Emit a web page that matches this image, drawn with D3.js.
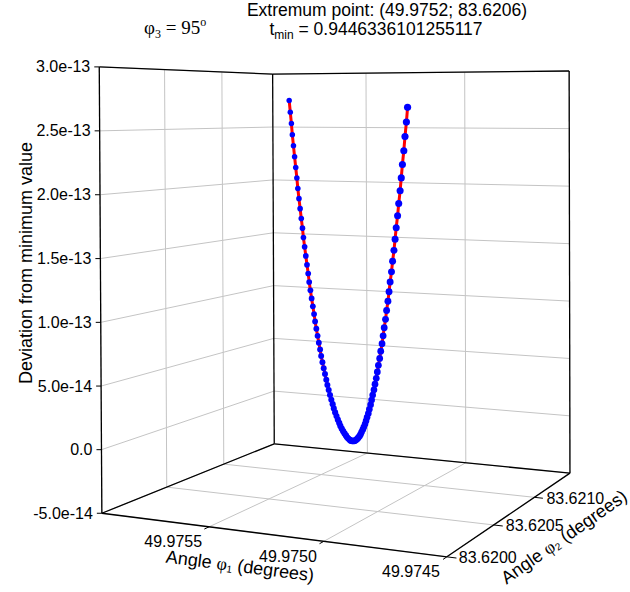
<!DOCTYPE html>
<html>
<head>
<meta charset="utf-8">
<script src="https://cdn.jsdelivr.net/npm/d3@7"></script>
<style>
body { margin: 0; background: #fff; }
svg { font-family: Arial, "Liberation Sans", sans-serif; }
</style>
</head>
<body>
<svg width="630" height="592"></svg>
<script>
// angle phi1 (degrees), angle phi2 (degrees), deviation from minimum value
var phi1 = [
  49.975910, 49.975895, 49.975880, 49.975866, 49.975851, 49.975836, 49.975821, 49.975806, 49.975792, 49.975777,
  49.975762, 49.975747, 49.975732, 49.975718, 49.975703, 49.975688, 49.975673, 49.975658, 49.975644, 49.975629,
  49.975614, 49.975599, 49.975584, 49.975570, 49.975555, 49.975540, 49.975525, 49.975510, 49.975496, 49.975481,
  49.975466, 49.975451, 49.975436, 49.975422, 49.975407, 49.975392, 49.975377, 49.975362, 49.975348, 49.975333,
  49.975318, 49.975303, 49.975288, 49.975274, 49.975259, 49.975244, 49.975229, 49.975214, 49.975200, 49.975185,
  49.975170,
  49.975160, 49.975149, 49.975139, 49.975128, 49.975118, 49.975108, 49.975097, 49.975087, 49.975076, 49.975066,
  49.975056, 49.975045, 49.975035, 49.975024, 49.975014, 49.975004, 49.974993, 49.974983, 49.974972, 49.974962,
  49.974952, 49.974941, 49.974931, 49.974920, 49.974910, 49.974900, 49.974889, 49.974879, 49.974868, 49.974858,
  49.974848, 49.974837, 49.974827, 49.974816, 49.974806, 49.974796, 49.974785, 49.974775, 49.974764, 49.974754,
  49.974744, 49.974733, 49.974723, 49.974712, 49.974702, 49.974692, 49.974681, 49.974671, 49.974660, 49.974650
]
var phi2 = [
  83.621500, 83.621482, 83.621464, 83.621446, 83.621428, 83.621410, 83.621392, 83.621374, 83.621356, 83.621338,
  83.621320, 83.621302, 83.621284, 83.621266, 83.621248, 83.621230, 83.621212, 83.621194, 83.621176, 83.621158,
  83.621140, 83.621122, 83.621104, 83.621086, 83.621068, 83.621050, 83.621032, 83.621014, 83.620996, 83.620978,
  83.620960, 83.620942, 83.620924, 83.620906, 83.620888, 83.620870, 83.620852, 83.620834, 83.620816, 83.620798,
  83.620780, 83.620762, 83.620744, 83.620726, 83.620708, 83.620690, 83.620672, 83.620654, 83.620636, 83.620618,
  83.620600,
  83.620588, 83.620576, 83.620564, 83.620552, 83.620540, 83.620528, 83.620516, 83.620504, 83.620492, 83.620480,
  83.620468, 83.620456, 83.620444, 83.620432, 83.620420, 83.620408, 83.620396, 83.620384, 83.620372, 83.620360,
  83.620348, 83.620336, 83.620324, 83.620312, 83.620300, 83.620288, 83.620276, 83.620264, 83.620252, 83.620240,
  83.620228, 83.620216, 83.620204, 83.620192, 83.620180, 83.620168, 83.620156, 83.620144, 83.620132, 83.620120,
  83.620108, 83.620096, 83.620084, 83.620072, 83.620060, 83.620048, 83.620036, 83.620024, 83.620012, 83.620000
]
var dev = [
  2.750e-13, 2.641e-13, 2.534e-13, 2.430e-13, 2.328e-13, 2.228e-13, 2.130e-13, 2.034e-13, 1.940e-13, 1.849e-13,
  1.760e-13, 1.673e-13, 1.588e-13, 1.506e-13, 1.426e-13, 1.348e-13, 1.272e-13, 1.198e-13, 1.126e-13, 1.057e-13,
  9.90e-14, 9.25e-14, 8.62e-14, 8.02e-14, 7.44e-14, 6.88e-14, 6.34e-14, 5.82e-14, 5.32e-14, 4.85e-14,
  4.40e-14, 3.97e-14, 3.56e-14, 3.18e-14, 2.82e-14, 2.48e-14, 2.16e-14, 1.86e-14, 1.58e-14, 1.33e-14,
  1.10e-14, 8.9e-15, 7.0e-15, 5.4e-15, 4.0e-15, 2.8e-15, 1.8e-15, 1.0e-15, 4e-16, 1e-16,
  0,
  1e-16, 4e-16, 1.0e-15, 1.7e-15, 2.7e-15, 3.9e-15, 5.3e-15, 6.9e-15, 8.7e-15, 1.07e-14,
  1.30e-14, 1.55e-14, 1.82e-14, 2.11e-14, 2.42e-14, 2.75e-14, 3.10e-14, 3.48e-14, 3.88e-14, 4.30e-14,
  4.74e-14, 5.20e-14, 5.68e-14, 6.18e-14, 6.71e-14, 7.26e-14, 7.83e-14, 8.42e-14, 9.03e-14, 9.67e-14,
  1.032e-13, 1.099e-13, 1.169e-13, 1.241e-13, 1.315e-13, 1.391e-13, 1.469e-13, 1.550e-13, 1.633e-13, 1.717e-13,
  1.804e-13, 1.893e-13, 1.984e-13, 2.078e-13, 2.173e-13, 2.271e-13, 2.371e-13, 2.473e-13, 2.577e-13, 2.683e-13
]
var phi1Ticks = [49.9755, 49.9750, 49.9745]
var phi2Ticks = [83.6200, 83.6205, 83.6210]
var devTicks = [-5e-14, 0, 5e-14, 1e-13, 1.5e-13, 2e-13, 2.5e-13, 3e-13]

var svg = d3.select('svg')
var gridColor = '#c4c4c4'
var serif = 'Times New Roman, Liberation Serif, serif'

// data -> unit box
var x = d3.scaleLinear().domain([49.9760, 49.9745]).range([0, 1])
var y = d3.scaleLinear().domain([83.6200, 83.6215]).range([0, 1])
var z = d3.scaleLinear().domain([-5e-14, 3e-13]).range([0, 1])

// where the box corners sit on the page; a perspective camera is fitted to them
var corners = [
  [0, 0, 0, 102, 513], [1, 0, 0, 447, 557], [1, 1, 0, 570, 473], [0, 1, 0, 274, 444],
  [0, 0, 1, 99, 67], [0, 1, 1, 273, 74], [1, 1, 1, 569, 71]
]
var cam = fitCamera(corners)

function fitCamera(pts) {
  var rows = [], rhs = []
  pts.forEach(function(p) {
    var X = p[0], Y = p[1], Z = p[2], sx = p[3], sy = p[4]
    rows.push([X, Y, Z, 1, 0, 0, 0, 0, -sx * X, -sx * Y, -sx * Z]); rhs.push(sx)
    rows.push([0, 0, 0, 0, X, Y, Z, 1, -sy * X, -sy * Y, -sy * Z]); rhs.push(sy)
  })
  var n = 11
  var M = d3.range(n).map(function(i) {
    return d3.range(n + 1).map(function(j) {
      return d3.sum(rows, function(r, k) { return r[i] * (j < n ? r[j] : rhs[k]) })
    })
  })
  for (var c = 0; c < n; c++) {
    var p = c
    for (var r = c + 1; r < n; r++) if (Math.abs(M[r][c]) > Math.abs(M[p][c])) p = r
    var tmp = M[c]; M[c] = M[p]; M[p] = tmp
    for (var r2 = 0; r2 < n; r2++) {
      if (r2 === c) continue
      var f = M[r2][c] / M[c][c]
      for (var k = c; k <= n; k++) M[r2][k] -= f * M[c][k]
    }
  }
  return M.map(function(row, i) { return row[n] / row[i] })
}

function project(u, v, w) {
  var d = cam[8] * u + cam[9] * v + cam[10] * w + 1
  return [(cam[0] * u + cam[1] * v + cam[2] * w + cam[3]) / d,
          (cam[4] * u + cam[5] * v + cam[6] * w + cam[7]) / d, d]
}

function seg(g, a, b, color, width) {
  var p = project.apply(null, a), q = project.apply(null, b)
  g.append('line')
    .attr('x1', p[0]).attr('y1', p[1]).attr('x2', q[0]).attr('y2', q[1])
    .attr('stroke', color).attr('stroke-width', width)
}

// grid on the left wall, back wall and floor
var grid = svg.append('g')
devTicks.forEach(function(t) {
  seg(grid, [0, 0, z(t)], [0, 1, z(t)], gridColor, 1)
  seg(grid, [0, 1, z(t)], [1, 1, z(t)], gridColor, 1)
})
phi2Ticks.forEach(function(t) {
  seg(grid, [0, y(t), 0], [0, y(t), 1], gridColor, 1)
  seg(grid, [0, y(t), 0], [1, y(t), 0], gridColor, 1)
})
phi1Ticks.forEach(function(t) {
  seg(grid, [x(t), 1, 0], [x(t), 1, 1], gridColor, 1)
  seg(grid, [x(t), 0, 0], [x(t), 1, 0], gridColor, 1)
})

// frame
var frame = svg.append('g')
var edges = [
  [[0, 0, 0], [0, 0, 1]], [[0, 1, 0], [0, 1, 1]], [[1, 1, 0], [1, 1, 1]],
  [[0, 0, 1], [0, 1, 1]], [[0, 1, 1], [1, 1, 1]],
  [[0, 0, 0], [1, 0, 0]], [[1, 0, 0], [1, 1, 0]], [[1, 1, 0], [0, 1, 0]], [[0, 1, 0], [0, 0, 0]]
]
edges.forEach(function(e) { seg(frame, e[0], e[1], '#000', 1.3) })

// ticks and tick labels
var axes = svg.append('g').attr('font-size', 16).attr('fill', '#000')
var fmtDev = function(d) {
  return d === 0 ? '0.0' : d3.format('.1e')(d).replace('e+', 'e').replace('\u2212', '-')
}
devTicks.forEach(function(t) {
  var p = project(0, 0, z(t))
  axes.append('line').attr('x1', p[0] - 5).attr('x2', p[0]).attr('y1', p[1]).attr('y2', p[1])
    .attr('stroke', '#000').attr('stroke-width', 1)
  axes.append('text').attr('x', p[0] - 9).attr('y', p[1])
    .attr('text-anchor', 'end').attr('dominant-baseline', 'central').text(fmtDev(t))
})
phi1Ticks.forEach(function(t) {
  var p = project(x(t), 0, 0), q = project(x(t), -0.025, 0)
  axes.append('line').attr('x1', p[0]).attr('y1', p[1]).attr('x2', q[0]).attr('y2', q[1])
    .attr('stroke', '#000').attr('stroke-width', 1)
  axes.append('text').attr('x', p[0] - 7).attr('y', p[1] + 15)
    .attr('text-anchor', 'end').attr('dominant-baseline', 'central').text(d3.format('.4f')(t))
})
phi2Ticks.forEach(function(t) {
  var p = project(1, y(t), 0), q = project(1.025, y(t), 0)
  axes.append('line').attr('x1', p[0]).attr('y1', p[1]).attr('x2', q[0]).attr('y2', q[1])
    .attr('stroke', '#000').attr('stroke-width', 1)
  axes.append('text').attr('x', p[0] + 12).attr('y', p[1] + 1)
    .attr('dominant-baseline', 'central').text(d3.format('.4f')(t))
})

// curve
var pts = phi1.map(function(d, i) { return project(x(d), y(phi2[i]), z(dev[i])) })
var dRef = project(0.5, 0.5, 0.5)[2]
svg.append('path')
  .attr('d', d3.line()(pts.map(function(p) { return [p[0], p[1]] })))
  .attr('fill', 'none').attr('stroke', '#ff0000').attr('stroke-width', 3)
  .attr('stroke-linejoin', 'round')
svg.append('g').selectAll('circle')
  .data(pts)
  .enter()
  .append('circle')
    .attr('cx', function(p) { return p[0] })
    .attr('cy', function(p) { return p[1] })
    .attr('r', function(p) { return 3.1 * dRef / p[2] })
    .attr('fill', '#0000ff')

// axis titles
svg.append('text')
  .attr('transform', 'translate(32,263) rotate(-90)')
  .attr('text-anchor', 'middle').attr('font-size', 18)
  .text('Deviation from minimum value')
var t1 = svg.append('text')
  .attr('transform', 'translate(240,566) rotate(7.3)')
  .attr('text-anchor', 'middle').attr('dominant-baseline', 'central').attr('font-size', 18)
t1.append('tspan').text('Angle ')
t1.append('tspan').attr('font-family', serif).text('φ')
t1.append('tspan').attr('font-size', 10).attr('dy', 4).text('1')
t1.append('tspan').attr('dy', -4).text(' (degrees)')
var t2 = svg.append('text')
  .attr('transform', 'translate(564,537) rotate(-35)')
  .attr('text-anchor', 'middle').attr('dominant-baseline', 'central').attr('font-size', 18)
t2.append('tspan').text('Angle ')
t2.append('tspan').attr('font-family', serif).text('φ')
t2.append('tspan').attr('font-size', 10).attr('dy', 4).text('2')
t2.append('tspan').attr('dy', -4).text(' (degrees)')

// header
svg.append('text').attr('x', 387).attr('y', 16).attr('text-anchor', 'middle').attr('font-size', 17.5)
  .text('Extremum point: (49.9752; 83.6206)')
var tm = svg.append('text').attr('x', 376).attr('y', 35).attr('text-anchor', 'middle').attr('font-size', 17.5)
tm.append('tspan').text('t')
tm.append('tspan').attr('font-size', 12).attr('dy', 4).text('min')
tm.append('tspan').attr('dy', -4).text(' = 0.9446336101255117')
var ph = svg.append('text').attr('x', 144).attr('y', 34).attr('font-size', 19)
  .attr('font-family', serif)
ph.append('tspan').text('φ')
ph.append('tspan').attr('font-size', 12).attr('dy', 4).text('3')
ph.append('tspan').attr('dy', -4).text(' = 95')
ph.append('tspan').attr('font-size', 12).attr('dy', -8).text('o')
</script>
</body>
</html>
